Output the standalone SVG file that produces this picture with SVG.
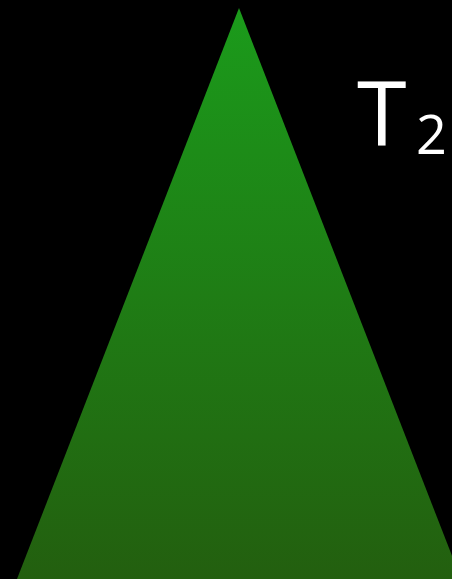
<svg xmlns="http://www.w3.org/2000/svg" width="452" height="579" viewBox="0 0 452 579">
  <defs>
    <linearGradient id="g" gradientUnits="userSpaceOnUse" x1="0" y1="8" x2="0" y2="579">
      <stop offset="0" stop-color="#1b9b1b"/>
      <stop offset="1" stop-color="#235f0f"/>
    </linearGradient>
  </defs>
  <style>
    .lbl { fill: #ffffff; font-family: "Open Sans", "Noto Sans", sans-serif; font-weight: 400; }
  </style>
  <rect width="452" height="579" fill="#000000"/>
  <g id="tree">
    <polygon points="239,8 17,579 461,579" fill="url(#g)"/>
  </g>
  <g id="label">
    <text class="lbl" x="357" y="146" font-size="90">T</text>
    <text class="lbl" x="416" y="154" font-size="54">2</text>
  </g>
</svg>
